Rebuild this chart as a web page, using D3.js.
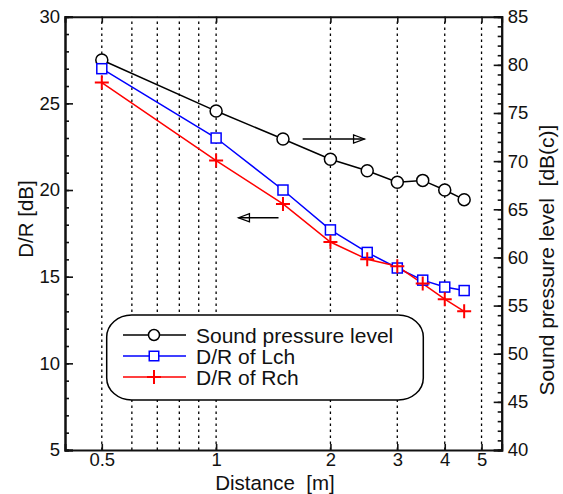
<!DOCTYPE html>
<html>
<head>
<meta charset="utf-8">
<script src="https://cdn.jsdelivr.net/npm/d3@7"></script>
<style>
	body { margin: 0; background: #fff; }
	text { font-family: "Liberation Sans", Arial, sans-serif; fill: #111; }
</style>
</head>
<body>
<script>
// distances [m]
var distance = [0.5, 1, 1.5, 2, 2.5, 3, 3.5, 4, 4.5];
// sound pressure level [dB(c)] (right axis)
var spl = [80.5, 75.2, 72.3, 70.2, 69.0, 67.8, 68.0, 67.0, 66.0];
// D/R [dB] (left axis)
var drL = [27.0, 23.0, 20.0, 17.7, 16.4, 15.5, 14.8, 14.4, 14.2];
var drR = [26.2, 21.7, 19.2, 17.0, 16.0, 15.6, 14.6, 13.7, 13.0];

var xTicks = [0.5, 1, 2, 3, 4, 5];
var xGrid = [0.5, 0.6, 0.7, 0.8, 0.9, 1, 2, 3, 4, 5];
var leftTicks = [5, 10, 15, 20, 25, 30];
var rightTicks = [40, 45, 50, 55, 60, 65, 70, 75, 80, 85];

var legendNames = ["Sound pressure level", "D/R of Lch", "D/R of Rch"];

// annotation arrows, in data units
var arrowSpl = {x1: 1.69, x2: 2.46, y: 72.3};
var arrowDr = {x1: 1.46, x2: 1.145, y: 18.4};

var width = 563;
var height = 494;
var margin = {top: 16.7, right: 61.3, bottom: 44, left: 65};

var svg = d3.select("body")
	.append("svg")
	.attr("width", width)
	.attr("height", height);

var x = d3.scaleLog().domain([0.4, 5.65]).range([margin.left, width - margin.right]);
var yL = d3.scaleLinear().domain([5, 30]).range([height - margin.bottom, margin.top]);
var yR = d3.scaleLinear().domain([40, 85]).range([height - margin.bottom, margin.top]);

var x0 = margin.left, x1 = width - margin.right;
var y0 = height - margin.bottom, y1 = margin.top;

/* dotted vertical grid */
svg.append("g")
	.selectAll("line")
	.data(xGrid)
	.enter().append("line")
		.attr("x1", function(d) { return x(d); })
		.attr("x2", function(d) { return x(d); })
		.attr("y1", y0)
		.attr("y2", y1)
		.attr("stroke", "#000")
		.attr("stroke-width", 1.3)
		.attr("stroke-dasharray", "2.5,3.5");

/* axes, ticks pointing inward */
var fontTick = "18.5px";

var bottom = svg.append("g").attr("transform", "translate(0," + y0 + ")")
	.call(d3.axisBottom(x).tickValues(xTicks).tickSize(-6).tickPadding(3).tickFormat(d3.format("")));
var top_ = svg.append("g").attr("transform", "translate(0," + y1 + ")")
	.call(d3.axisTop(x).tickValues(xTicks).tickSize(-6).tickFormat(""));

var leftMinor = svg.append("g").attr("transform", "translate(" + x0 + ",0)")
	.call(d3.axisLeft(yL).ticks(25).tickSize(-4).tickFormat(""));
var left = svg.append("g").attr("transform", "translate(" + x0 + ",0)")
	.call(d3.axisLeft(yL).tickValues(leftTicks).tickSize(-8).tickPadding(5));

var rightMinor = svg.append("g").attr("transform", "translate(" + x1 + ",0)")
	.call(d3.axisRight(yR).ticks(45).tickSize(-4).tickFormat(""));
var right = svg.append("g").attr("transform", "translate(" + x1 + ",0)")
	.call(d3.axisRight(yR).tickValues(rightTicks).tickSize(-8).tickPadding(6));

[bottom, top_, leftMinor, left, rightMinor, right].forEach(function(g) {
	g.selectAll("path").attr("stroke", "#111").attr("stroke-width", 2);
	g.selectAll("line").attr("stroke", "#111").attr("stroke-width", 1.6);
	g.selectAll("text")
		.style("font-family", "'Liberation Sans', Arial, sans-serif")
		.style("font-size", fontTick)
		.attr("fill", "#111");
});

/* axis titles */
svg.append("text")
	.attr("x", 275).attr("y", 490)
	.attr("text-anchor", "middle")
	.style("font-size", "20.5px")
	.style("white-space", "pre")
	.text("Distance  [m]");

svg.append("text")
	.attr("transform", "translate(33,219) rotate(-90)")
	.attr("text-anchor", "middle")
	.style("font-size", "20.5px")
	.text("D/R [dB]");

svg.append("text")
	.attr("transform", "translate(554,260) rotate(-90)")
	.attr("text-anchor", "middle")
	.style("font-size", "21px")
	.style("white-space", "pre")
	.text("Sound pressure level  [dB(c)]");

/* series */
function series(values, yScale) {
	return distance.map(function(d, i) { return {x: d, y: values[i], ys: yScale}; });
}
var line = d3.line()
	.x(function(d) { return x(d.x); })
	.y(function(d) { return d.ys(d.y); });

var sSpl = series(spl, yR);
var sL = series(drL, yL);
var sR = series(drR, yL);

svg.append("path").datum(sSpl).attr("d", line)
	.attr("fill", "none").attr("stroke", "#000").attr("stroke-width", 1.5);
svg.append("path").datum(sL).attr("d", line)
	.attr("fill", "none").attr("stroke", "#0000ff").attr("stroke-width", 1.5);
svg.append("path").datum(sR).attr("d", line)
	.attr("fill", "none").attr("stroke", "#ff0000").attr("stroke-width", 1.5);

function circleMark(g, cx, cy, r) {
	g.append("circle").attr("cx", cx).attr("cy", cy).attr("r", r)
		.attr("fill", "#fff").attr("stroke", "#000").attr("stroke-width", 1.5);
}
function squareMark(g, cx, cy, s) {
	g.append("rect").attr("x", cx - s / 2).attr("y", cy - s / 2)
		.attr("width", s).attr("height", s)
		.attr("fill", "#fff").attr("stroke", "#0000ff").attr("stroke-width", 1.5);
}
function plusMark(g, cx, cy, s) {
	g.append("path")
		.attr("d", "M" + (cx - s) + "," + cy + "H" + (cx + s) + "M" + cx + "," + (cy - s) + "V" + (cy + s))
		.attr("stroke", "#ff0000").attr("stroke-width", 2).attr("fill", "none");
}

var marks = svg.append("g");
sSpl.forEach(function(d) { circleMark(marks, x(d.x), d.ys(d.y), 6); });
sL.forEach(function(d) { squareMark(marks, x(d.x), d.ys(d.y), 10); });
sR.forEach(function(d) { plusMark(marks, x(d.x), d.ys(d.y), 7); });

/* arrows */
function arrow(xa, xb, yy) {
	var dir = xb > xa ? 1 : -1;
	svg.append("line")
		.attr("x1", xa).attr("x2", xb).attr("y1", yy).attr("y2", yy)
		.attr("stroke", "#000").attr("stroke-width", 1.5);
	svg.append("path")
		.attr("d", "M" + xb + "," + yy + "L" + (xb - dir * 11) + "," + (yy - 4) + "L" + (xb - dir * 11) + "," + (yy + 4) + "Z")
		.attr("fill", "none").attr("stroke", "#000").attr("stroke-width", 1.3);
}
arrow(x(arrowSpl.x1), x(arrowSpl.x2), yR(arrowSpl.y));
arrow(x(arrowDr.x1), x(arrowDr.x2), yL(arrowDr.y));

/* legend */
var legend = svg.append("g");
legend.append("rect")
	.attr("x", 106.7).attr("y", 315)
	.attr("width", 316.6).attr("height", 85)
	.attr("rx", 25).attr("ry", 22)
	.attr("fill", "#fff").attr("stroke", "#000").attr("stroke-width", 1.5);

var legendColors = ["#000", "#0000ff", "#ff0000"];
legendNames.forEach(function(name, i) {
	var ly = 335 + i * 21;
	legend.append("line")
		.attr("x1", 123).attr("x2", 186).attr("y1", ly).attr("y2", ly)
		.attr("stroke", legendColors[i]).attr("stroke-width", 1.5);
	if (i == 0) circleMark(legend, 154, ly, 5.5);
	if (i == 1) squareMark(legend, 154, ly, 9.5);
	if (i == 2) plusMark(legend, 154, ly, 7);
	legend.append("text")
		.attr("x", 196).attr("y", ly + 7.5)
		.style("font-size", "21px")
		.text(name);
});
</script>
</body>
</html>
